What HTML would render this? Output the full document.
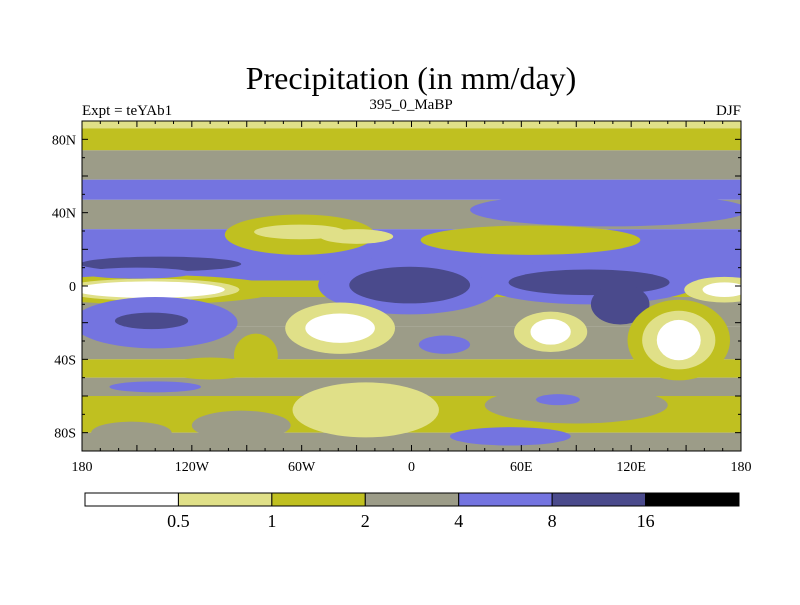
<!DOCTYPE html>
<html><head><meta charset="utf-8"><style>
html,body{margin:0;padding:0;background:#fff;}
svg text{font-family:"Liberation Serif",serif;fill:#000;}
</style></head><body>
<svg id="chart" width="800" height="600" xmlns="http://www.w3.org/2000/svg">
<rect x="0" y="0" width="800" height="600" fill="#fff"/>
<text x="411" y="89" font-size="32" text-anchor="middle">Precipitation (in mm/day)</text>
<text x="82" y="115" font-size="15">Expt = teYAb1</text>
<text x="411" y="109" font-size="15" text-anchor="middle">395_0_MaBP</text>
<text x="741" y="115" font-size="15" text-anchor="end">DJF</text>
<defs><clipPath id="plotclip"><rect x="82" y="121" width="659" height="330"/></clipPath></defs>
<g id="map" clip-path="url(#plotclip)"></g>
<rect x="82" y="121" width="659" height="330" fill="none" stroke="#000" stroke-width="1"/>
<g id="ticks"></g>
<g id="colorbar"></g>
</svg>
<script>
const levelColors = ["#ffffff","#e0e088","#c0c020","#9c9c88","#7474e0","#4a4a8c","#000000"];
const levelBounds = ["0.5","1","2","4","8","16"];
// zonal bands: [latTop, latBottom, level]
const bandTop = [90,86,74,58,47,31,18,3,-6,-22,-40,-50,-60,-80];
const bandBot = [86,74,58,47,31,18,3,-6,-22,-40,-50,-60,-80,-90];
const bandLevel = [1,2,3,4,3,4,4,2,3,3,2,3,2,3];
// blobs: lon, lat, radius lon, radius lat, level
const blobLon = [108,-61,-61,-30,65,-137,-143,-143,-143,-1,-1,97,97,114,-140,-142,-85,-39,-39,76,76,146,146,146,171,171,18,-25,54,-153,-93,-140,90,80,-150,-110];
const blobLat = [41.5,28,29.5,27,25,12,-2,-2,-2,0.5,0.5,2,2,-10,-20,-19,-38,-23,-23,-25,-25,-29.5,-29.5,-29.5,-2,-2,-32,-67.6,-82,-80,-76,-55,-65,-62,7,-45];
const blobRLon = [76,41,25,20,60,44,71,49,41,50,33,60,44,16,45,20,12,30,19,20,11,28,20,12,22,12,14,40,33,22,27,25,50,12,30,25];
const blobRLat = [9,11,4,4,8,4,8,6,4.5,16,10,12,7,11,14,4.5,12,14,8,11,7,22,16,11,7,4,5,15,5,6,8,3,10,3,3,6];
const blobLevel = [4,2,1,1,2,5,2,1,0,4,5,4,5,5,4,5,2,1,0,1,0,2,1,0,1,0,4,1,4,3,3,4,3,4,4,2];
const lonTicks = [-180,-120,-60,0,60,120,180];
const lonLabels = ["180","120W","60W","0","60E","120E","180"];
const latTicks = [80,40,0,-40,-80];
const latLabels = ["80N","40N","0","40S","80S"];

const X0=82,X1=741,Y0=121,Y1=451;
const xScale = lon => X0 + (lon+180)*(X1-X0)/360;
const yScale = lat => Y0 + (90-lat)*(Y1-Y0)/180;
const NS="http://www.w3.org/2000/svg";
function mk(tag, attrs, parent){const e=document.createElementNS(NS,tag);for(const k in attrs)e.setAttribute(k,attrs[k]);parent.appendChild(e);return e;}
const map=document.getElementById('map');
bandTop.forEach((t,i)=>{
  const r=mk('rect',{x:X0,y:yScale(t),width:X1-X0,height:yScale(bandBot[i])-yScale(t),fill:levelColors[bandLevel[i]]},map);
  
  
});
blobLon.forEach((lon,i)=>{
  const e=mk('ellipse',{cx:xScale(lon),cy:yScale(blobLat[i]),rx:blobRLon[i]*(X1-X0)/360,ry:blobRLat[i]*(Y1-Y0)/180,fill:levelColors[blobLevel[i]]},map);
  
  
});
const tg=document.getElementById('ticks');
for(let lon=-180;lon<=180;lon+=10){
  const x=xScale(lon), L=(lon%30===0)?6:3;
  mk('line',{x1:x,y1:Y0,x2:x,y2:Y0+L,stroke:'#000'},tg);
  mk('line',{x1:x,y1:Y1,x2:x,y2:Y1-L,stroke:'#000'},tg);
}
for(let lat=-90;lat<=90;lat+=10){
  const y=yScale(lat), L=(lat%20===0)?6:3;
  mk('line',{x1:X0,y1:y,x2:X0+L,y2:y,stroke:'#000'},tg);
  mk('line',{x1:X1,y1:y,x2:X1-L,y2:y,stroke:'#000'},tg);
}
lonTicks.forEach((lon,i)=>{
  const t=mk('text',{x:xScale(lon),y:471,'font-size':14,'text-anchor':'middle'},tg);
  t.textContent=lonLabels[i];
  
  
});
latTicks.forEach((lat,i)=>{
  const t=mk('text',{x:X0-6,y:yScale(lat)+5,'font-size':14,'text-anchor':'end'},tg);
  t.textContent=latLabels[i];
  
  
});
const cb=document.getElementById('colorbar');
const CB0=85,CB1=739,CBY=493,CBH=13,bw=(CB1-CB0)/levelColors.length;
levelColors.forEach((c,i)=>{
  const r=mk('rect',{x:CB0+i*bw,y:CBY,width:bw,height:CBH,fill:c,stroke:'#000','stroke-width':1},cb);
  
  
});
levelBounds.forEach((b,i)=>{
  const t=mk('text',{x:CB0+(i+1)*bw,y:527,'font-size':18,'text-anchor':'middle'},cb);
  t.textContent=b;
  
  
});
</script>
</body></html>
